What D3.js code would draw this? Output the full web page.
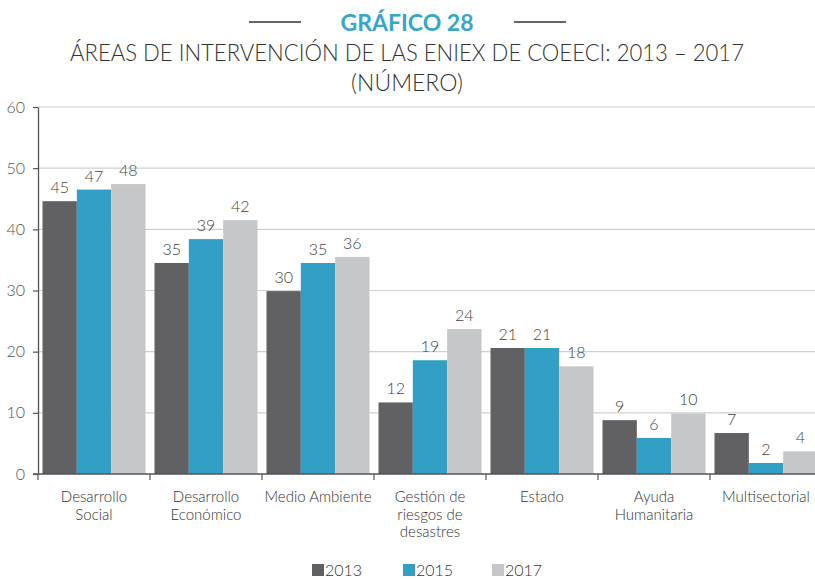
<!DOCTYPE html>
<html><head><meta charset="utf-8">
<script src="https://cdn.jsdelivr.net/npm/d3@7/dist/d3.min.js"></script>
<style>body{margin:0;background:#fff}svg{display:block}text{font-family:Lato,"Open Sans",sans-serif}</style>
</head><body><svg id="c" width="815" height="580"></svg>
<script>
const categories = ["Desarrollo\nSocial","Desarrollo\nEconómico","Medio Ambiente","Gestión de\nriesgos de\ndesastres","Estado","Ayuda\nHumanitaria","Multisectorial"];
const seriesNames = ["2013","2015","2017"];
const values2013 = [44.6, 34.5, 29.9, 11.7, 20.6, 8.8, 6.7];
const values2015 = [46.5, 38.4, 34.5, 18.6, 20.6, 5.9, 1.8];
const values2017 = [47.4, 41.5, 35.5, 23.7, 17.6, 9.9, 3.7];
const labels2013 = ["45","35","30","12","21","9","7"];
const labels2015 = ["47","39","35","19","21","6","2"];
const labels2017 = ["48","42","36","24","18","10","4"];
const yTicks = [0,10,20,30,40,50,60];
const colors = ["#616163","#32a0c4","#c6c7c9"];

const svg = d3.select("#c");
const mLeft = 38, mBottom = 474, mTop = 107, bandW = 112;
const x0 = d3.scaleBand().domain(categories).range([mLeft, mLeft + bandW*categories.length]).padding(0);
const x1 = d3.scaleBand().domain(seriesNames).range([4.5, bandW-4.5]).padding(0);
const y = d3.scaleLinear().domain([0,60]).range([mBottom, mTop]);

// title
svg.append("text").attr("x",407).attr("y",31).attr("text-anchor","middle")
  .attr("font-size",23).attr("font-weight",700).attr("fill","#36a6c9").text("GRÁFICO 28");
svg.append("line").attr("x1",249).attr("x2",301).attr("y1",22).attr("y2",22).attr("stroke","#333").attr("stroke-width",1.3);
svg.append("line").attr("x1",514).attr("x2",566).attr("y1",22).attr("y2",22).attr("stroke","#333").attr("stroke-width",1.3);
svg.append("text").attr("x",407).attr("y",61).attr("text-anchor","middle")
  .attr("font-size",23).attr("font-weight",300).attr("fill","#333")
  .attr("textLength",674).attr("lengthAdjust","spacingAndGlyphs")
  .text("ÁREAS DE INTERVENCIÓN DE LAS ENIEX DE COEECI: 2013 – 2017");
svg.append("text").attr("x",407).attr("y",91).attr("text-anchor","middle")
  .attr("font-size",23).attr("font-weight",300).attr("fill","#333").text("(NÚMERO)");

// gridlines
svg.append("g").selectAll("line").data(yTicks.filter(d=>d>0)).join("line")
  .attr("x1",mLeft).attr("x2",815).attr("y1",d=>y(d)).attr("y2",d=>y(d))
  .attr("stroke","#d0d0d0").attr("stroke-width",1.2);

// y axis
const yAxis = svg.append("g").attr("transform",`translate(${mLeft},0)`)
  .call(d3.axisLeft(y).tickValues(yTicks).tickSize(5).tickSizeOuter(0).tickPadding(8));
yAxis.select(".domain").attr("stroke","#555").attr("stroke-width",1.3);
yAxis.selectAll(".tick line").attr("stroke","#555").attr("stroke-width",1.2);
yAxis.selectAll(".tick text").attr("font-size",16).attr("fill","#555").attr("font-family","Lato,sans-serif").attr("font-weight",300);

// bars
const seriesVals = [values2013, values2015, values2017];
const seriesLabs = [labels2013, labels2015, labels2017];
const rows = [];
categories.forEach((c,i)=>seriesNames.forEach((s,j)=>rows.push({c,s,j,v:seriesVals[j][i],l:seriesLabs[j][i]})));
svg.append("g").selectAll("rect").data(rows).join("rect")
  .attr("x",d=>x0(d.c)+x1(d.s)).attr("width",x1.bandwidth())
  .attr("y",d=>y(d.v)).attr("height",d=>y(0)-y(d.v)).attr("fill",d=>colors[d.j]);
svg.append("g").selectAll("text").data(rows).join("text")
  .attr("x",d=>x0(d.c)+x1(d.s)+x1.bandwidth()/2).attr("y",d=>y(d.v)-8)
  .attr("text-anchor","middle").attr("font-size",16).attr("font-weight",300).attr("fill","#444").text(d=>d.l);

// x axis
const xAxis = svg.append("g").attr("transform",`translate(0,${mBottom})`);
xAxis.append("line").attr("x1",mLeft-5).attr("x2",815).attr("stroke","#555").attr("stroke-width",1.3);
xAxis.selectAll("line.t").data(categories).join("line").attr("class","t")
  .attr("x1",d=>x0(d)).attr("x2",d=>x0(d)).attr("y1",0).attr("y2",6).attr("stroke","#555").attr("stroke-width",1.2);
const cl = xAxis.selectAll("text").data(categories).join("text")
  .attr("text-anchor","middle").attr("font-size",15).attr("font-weight",300).attr("fill","#333");
cl.each(function(d){
  const t = d3.select(this);
  d.split("\n").forEach((ln,k)=>t.append("tspan").attr("x",x0(d)+bandW/2).attr("y",28+k*17.5).text(ln));
});

// legend
const legX = [312, 403, 492];
const leg = svg.append("g").selectAll("g").data(seriesNames).join("g")
  .attr("transform",(d,i)=>`translate(${legX[i]},564)`);
leg.append("rect").attr("width",12).attr("height",12).attr("fill",(d,i)=>colors[i]);
leg.append("text").attr("x",13).attr("y",12).attr("font-size",16).attr("font-weight",300).attr("fill","#333").text(d=>d);
</script></body></html>
